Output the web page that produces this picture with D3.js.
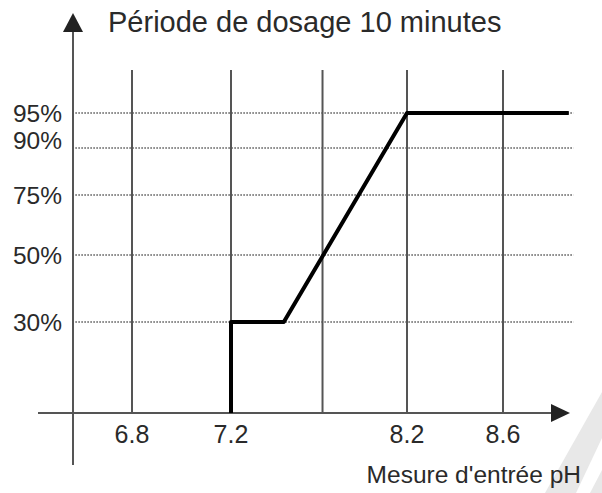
<!DOCTYPE html>
<html>
<head>
<meta charset="utf-8">
<script src="https://cdn.jsdelivr.net/npm/d3@7"></script>
<style>
  body { margin: 0; background: #fff; }
  text { font-family: "Liberation Sans", Arial, sans-serif; fill: #2a2a2a; }
</style>
</head>
<body>
<svg id="chart" width="602" height="493"></svg>
<script>
// schematic chart: axes are not linear, so scales are piecewise
const xTicks = [6.8, 7.2, 8.2, 8.6]
const xGrid = [6.8, 7.2, 7.72, 8.2, 8.6]
const yTicks = [30, 50, 75, 90, 95]
const yLabels = ["30%", "50%", "75%", "90%", "95%"]
const curvePH = [7.2, 7.2, 7.5, 8.2, 8.88]
const curvePct = [0, 30, 30, 95, 95]
const title = "Période de dosage 10 minutes"
const xTitle = "Mesure d'entrée pH"

const width = 602, height = 493
const svg = d3.select("#chart")

const x = d3.scaleLinear()
    .domain([6.55, 6.8, 7.2, 8.2, 8.6, 9.0])
    .range([73, 132, 231, 407, 503, 597])
const y = d3.scaleLinear()
    .domain([0, 30, 50, 75, 90, 95])
    .range([413, 322, 255, 195, 148, 113])

const gridTop = 70
const lineColor = "#555"

// watermark stripes (decoration)
svg.append("g").attr("fill", "#e8e8e8")
  .selectAll("polygon")
  .data([
    [[545, 493], [576, 493], [602, 438], [602, 392]],
    [[590, 493], [602, 493], [602, 470]]
  ])
  .join("polygon")
  .attr("points", d => d.map(p => p.join(",")).join(" "))

// dotted horizontal lines
svg.append("g")
  .selectAll("line")
  .data(yTicks)
  .join("line")
  .attr("x1", x(6.56)).attr("x2", x(8.9))
  .attr("y1", d => y(d)).attr("y2", d => y(d))
  .attr("stroke", "#555")
  .attr("stroke-width", 1.5)
  .attr("stroke-dasharray", "1.5,1.5")

// vertical grid lines
svg.append("g")
  .selectAll("line")
  .data(xGrid)
  .join("line")
  .attr("x1", d => x(d)).attr("x2", d => x(d))
  .attr("y1", gridTop).attr("y2", y(0))
  .attr("stroke", lineColor)
  .attr("stroke-width", 2)

// axes
const x0 = x(6.55)
svg.append("line")
  .attr("x1", 38).attr("x2", 556)
  .attr("y1", y(0)).attr("y2", y(0))
  .attr("stroke", lineColor).attr("stroke-width", 2)
svg.append("line")
  .attr("x1", x0).attr("x2", x0)
  .attr("y1", 28).attr("y2", 465)
  .attr("stroke", lineColor).attr("stroke-width", 2)

// arrow heads
svg.append("path")
  .attr("d", `M${x0},13 L${x0 - 10},32 L${x0 + 10},32 Z`)
  .attr("fill", "#222")
svg.append("path")
  .attr("d", `M570,${y(0)} L551,${y(0) - 9} L551,${y(0) + 9} Z`)
  .attr("fill", "#222")

// curve
const pts = curvePH.map((v, i) => [x(v), y(curvePct[i])])
svg.append("path")
  .datum(pts)
  .attr("d", d3.line())
  .attr("fill", "none")
  .attr("stroke", "#000")
  .attr("stroke-width", 4)
  .attr("stroke-linejoin", "round")

// y labels
svg.append("g")
  .selectAll("text")
  .data(yTicks)
  .join("text")
  .attr("x", 62)
  .attr("y", d => y(d) + (d === 90 ? -8 : 0))
  .attr("dy", "0.36em")
  .attr("text-anchor", "end")
  .attr("font-size", "24.5px")
  .text((d, i) => yLabels[i])

// x labels
svg.append("g")
  .selectAll("text")
  .data(xTicks)
  .join("text")
  .attr("x", d => x(d))
  .attr("y", 443)
  .attr("text-anchor", "middle")
  .attr("font-size", "25px")
  .text(d => d.toFixed(1))

svg.append("text")
  .attr("x", 108).attr("y", 32)
  .attr("font-size", "29px")
  .attr("fill", "#111")
  .text(title)

svg.append("text")
  .attr("x", 581).attr("y", 483)
  .attr("text-anchor", "end")
  .attr("font-size", "24.5px")
  .attr("fill", "#111")
  .text(xTitle)
</script>
</body>
</html>
